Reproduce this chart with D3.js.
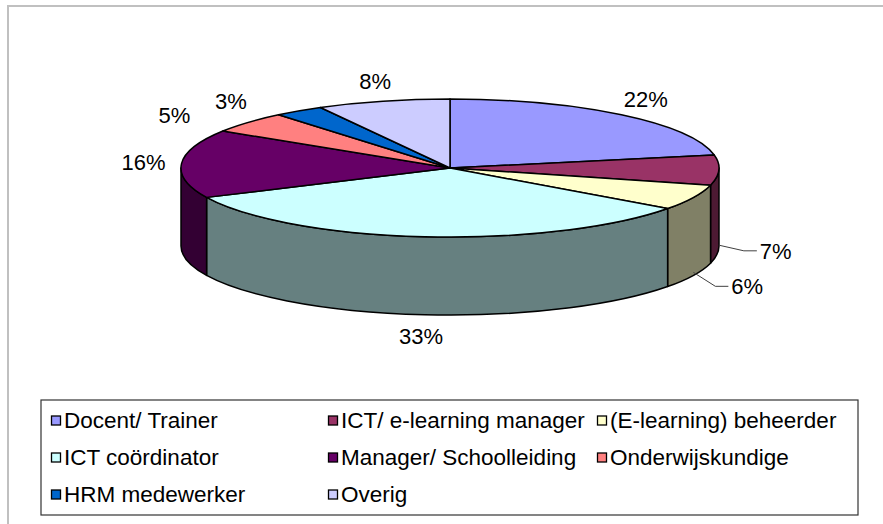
<!DOCTYPE html>
<html>
<head>
<meta charset="utf-8">
<script src="https://cdn.jsdelivr.net/npm/d3@7"></script>
<style>
    body { margin: 0; background: #fff; }
    text { font-family: "Liberation Sans", Arial, sans-serif; fill: #000; }
</style>
</head>
<body>
<div id="chart"></div>
<script>
const categories = ["Docent/ Trainer", "ICT/ e-learning manager", "(E-learning) beheerder",
    "ICT coördinator", "Manager/ Schoolleiding", "Onderwijskundige", "HRM medewerker", "Overig"];
const shares = [22, 7, 6, 33, 16, 5, 3, 8];
const palette = ["#9999FF", "#993366", "#FFFFCC", "#CCFFFF", "#660066", "#FF8080", "#0066CC", "#CCCCFF"];

const dims = {width: 883, height: 524};
// ellipse of the pie top, and thickness of the wall
const pieGeo = {cx: 450, cy: 168, rx: 269, ry: 69, depth: 78};

const rows = categories.map((c, i) => ({category: c, value: shares[i]}));

const color = d3.scaleOrdinal().domain(categories).range(palette);
const sideColor = c => {
    let r = d3.rgb(color(c));
    return d3.rgb(r.r * 0.5, r.g * 0.5, r.b * 0.5).formatHex();
};

let svg = d3.select("#chart")
    .append("svg")
    .attr("width", dims.width)
    .attr("height", dims.height);

// chart area frame (only top and left visible)
svg.append("rect")
    .attr("x", 8).attr("y", 6)
    .attr("width", dims.width + 20).attr("height", dims.height + 20)
    .attr("fill", "#fff")
    .attr("stroke", "#c0c0c0")
    .attr("stroke-width", 2);

const pie = d3.pie().sort(null).value(d => d.value);
const arcs = pie(rows);

function pt(a, dy = 0) {
    return [pieGeo.cx + pieGeo.rx * Math.sin(a), pieGeo.cy - pieGeo.ry * Math.cos(a) + dy];
}

function topPath(d) {
    let large = (d.endAngle - d.startAngle) > Math.PI ? 1 : 0;
    return `M${pieGeo.cx},${pieGeo.cy}L${pt(d.startAngle)}A${pieGeo.rx},${pieGeo.ry} 0 ${large} 1 ${pt(d.endAngle)}Z`;
}

function sidePath(d) {
    let a0 = Math.max(d.startAngle, Math.PI / 2);
    let a1 = Math.min(d.endAngle, Math.PI * 1.5);
    if (a1 <= a0) return null;
    return `M${pt(a0)}A${pieGeo.rx},${pieGeo.ry} 0 0 1 ${pt(a1)}` +
        `L${pt(a1, pieGeo.depth)}A${pieGeo.rx},${pieGeo.ry} 0 0 0 ${pt(a0, pieGeo.depth)}Z`;
}

let g = svg.append("g");

// front walls first
g.selectAll("path.side")
    .data(arcs.filter(d => sidePath(d) !== null))
    .enter()
    .append("path")
    .attr("class", "side")
    .attr("d", sidePath)
    .attr("fill", d => sideColor(d.data.category))
    .attr("stroke", "#000")
    .attr("stroke-width", 1.5)
    .attr("stroke-linejoin", "round");

g.selectAll("path.top")
    .data(arcs)
    .enter()
    .append("path")
    .attr("class", "top")
    .attr("d", topPath)
    .attr("fill", d => color(d.data.category))
    .attr("stroke", "#000")
    .attr("stroke-width", 1.5)
    .attr("stroke-linejoin", "round");

// data labels (small back labels and side labels get moved outward, like excel does)
const fontSize = 22;
arcs.forEach(d => {
    let m = (d.startAngle + d.endAngle) / 2;
    let s = Math.sin(m), c = Math.cos(m);
    let t = g.append("text")
        .attr("font-size", fontSize)
        .attr("text-anchor", "middle")
        .text(d.data.value + "%");
    let w = t.node().getComputedTextLength();
    let front = c < 0;
    let leader = front && Math.abs(s) > 0.5;
    let push = 0, drop = 0;
    if (leader) { push = 25; drop = 2; }
    if (!front && d.data.value <= 5) { push = 50; drop = 7; }
    let lx = pieGeo.cx + (pieGeo.rx + 16 + w / 2) * s + push * Math.sign(s);
    let ly = pieGeo.cy - (pieGeo.ry + 21) * c + (front ? pieGeo.depth : 0) + drop;
    t.attr("x", lx).attr("y", ly + 8);

    if (leader) {
        let p = pt(m, pieGeo.depth - 3);
        let left = lx - w / 2;
        g.append("polyline")
            .attr("points", [p, [left - 16, ly], [left - 3, ly]].join(" "))
            .attr("fill", "none")
            .attr("stroke", "#404040")
            .attr("stroke-width", 1);
    }
});

// legend
const legend = {x: 41, y: 400, w: 817, h: 115};
const colX = [51, 328, 597];
const rowY = [428, 465, 502];

svg.append("rect")
    .attr("x", legend.x).attr("y", legend.y)
    .attr("width", legend.w).attr("height", legend.h)
    .attr("fill", "#fff")
    .attr("stroke", "#333")
    .attr("stroke-width", 1.2);

let items = svg.selectAll("g.item")
    .data(categories)
    .enter()
    .append("g")
    .attr("class", "item")
    .attr("transform", (d, i) => `translate(${colX[i % 3]},${rowY[Math.floor(i / 3)]})`);

items.append("rect")
    .attr("x", 0.5).attr("y", -12)
    .attr("width", 9).attr("height", 9)
    .attr("fill", d => color(d))
    .attr("stroke", "#000")
    .attr("stroke-width", 1.3);

items.append("text")
    .attr("x", 13)
    .attr("y", 0)
    .attr("font-size", 22.5)
    .text(d => d);
</script>
</body>
</html>
